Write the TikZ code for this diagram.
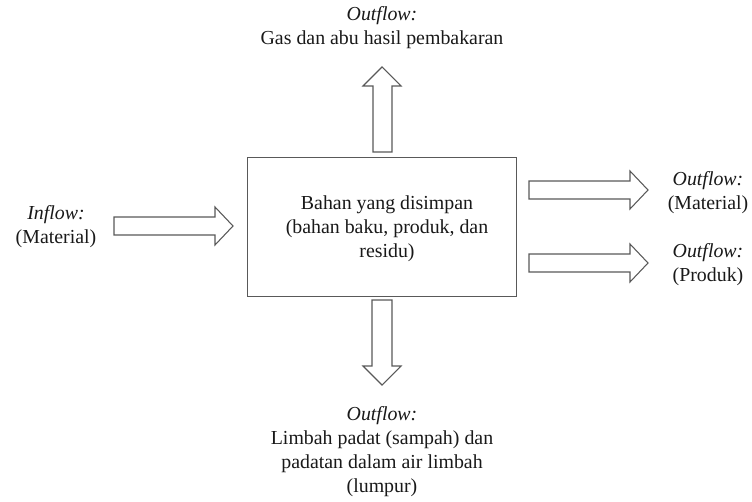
\documentclass[tikz,border=0pt]{standalone}
\usepackage{fontspec}
\setmainfont{Liberation Serif}
\begin{document}
\begin{tikzpicture}[x=0.75pt,y=-0.75pt,
  blockarrow/.style={draw=black!65,fill=white,line width=0.8pt,line join=miter},
  mainbox/.style={draw=black!65,line width=0.8pt,fill=white},
  lbl/.style={align=center,text=black!90,font=\fontsize{14.9}{18}\selectfont,inner sep=0pt}]
\useasboundingbox (0,0) rectangle (752,502);
% main box
\node[mainbox,minimum width=269*0.75pt,minimum height=139*0.75pt,anchor=north west] (box) at (247,157) {};
\node[lbl,anchor=center] (boxtext) at (387,228.5) {Bahan yang disimpan\\(bahan baku, produk, dan\\residu)};
% left inflow arrow
\coordinate (lin) at (114,226);
\draw[blockarrow] (114,217) -- (215,217) -- (215,207) -- (233,226) -- (215,245) -- (215,235) -- (114,235) -- cycle;
% top arrow
\draw[blockarrow] (373,152) -- (373,86) -- (363,86) -- (382,67) -- (401,86) -- (392,86) -- (392,152) -- cycle;
% right arrows
\draw[blockarrow] (529,181) -- (630,181) -- (630,171) -- (648,190) -- (630,209) -- (630,199) -- (529,199) -- cycle;
\draw[blockarrow] (529,254) -- (630,254) -- (630,244) -- (648,263) -- (630,282) -- (630,272) -- (529,272) -- cycle;
% bottom arrow
\draw[blockarrow] (372,300) -- (392,300) -- (392,366) -- (401,366) -- (382,385) -- (363,366) -- (372,366) -- cycle;
% labels
\node[lbl] (toplbl) at (382,28) {\textit{Outflow:}\\Gas dan abu hasil pembakaran};
\node[lbl] (leftlbl) at (56,227) {\textit{Inflow:}\\(Material)};
\node[lbl] (r1lbl) at (708,193) {\textit{Outflow:}\\(Material)};
\node[lbl] (r2lbl) at (708,265) {\textit{Outflow:}\\(Produk)};
\node[lbl] (botlbl) at (382,452) {\textit{Outflow:}\\Limbah padat (sampah) dan\\padatan dalam air limbah\\(lumpur)};
\end{tikzpicture}
\end{document}
